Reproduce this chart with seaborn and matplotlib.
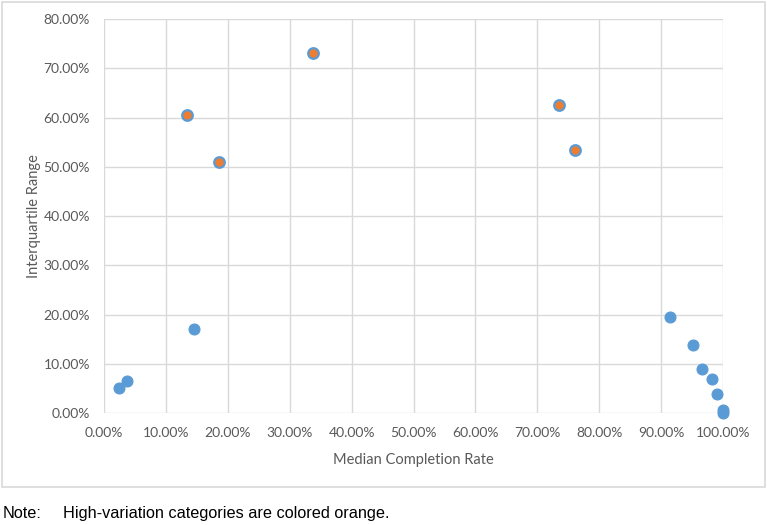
import matplotlib
matplotlib.use("Agg")
import matplotlib.pyplot as plt
import seaborn as sns
import pandas as pd
from matplotlib.ticker import PercentFormatter
from matplotlib.patches import Rectangle

# Data (fractions)
median_rate = [0.025, 0.037, 0.146, 0.914, 0.952, 0.966, 0.982, 0.991, 1.000, 1.000,
               0.134, 0.186, 0.337, 0.735, 0.761]
iqr = [0.0515, 0.066, 0.172, 0.196, 0.138, 0.089, 0.070, 0.040, 0.0075, 0.000,
       0.605, 0.509, 0.732, 0.625, 0.534]
group = ["Normal"] * 10 + ["High variation"] * 5

df = pd.DataFrame({"median": median_rate, "iqr": iqr, "group": group})

sns.set_theme(style="white")
plt.rcParams["font.family"] = ["Lato", "DejaVu Sans"]

fig = plt.figure(figsize=(7.67, 5.25), dpi=100)
ax = fig.add_axes([104/767, 1 - 413.3/525, (723-104)/767, (413.3-19)/525])

blue = "#5B9BD5"
orange = "#ED7D31"
sns.scatterplot(data=df[df.group == "Normal"], x="median", y="iqr", ax=ax,
                color=blue, edgecolor=blue, s=62, linewidth=0.8, clip_on=False, zorder=3)
sns.scatterplot(data=df[df.group == "High variation"], x="median", y="iqr", ax=ax,
                color=orange, edgecolor=blue, s=58, linewidth=1.6, clip_on=False, zorder=3)

ax.set_xlim(0, 1)
ax.set_ylim(0, 0.8)
ax.set_xticks([i/10 for i in range(11)])
ax.set_yticks([i/10 for i in range(9)])
ax.xaxis.set_major_formatter(PercentFormatter(1.0, decimals=2))
ax.yaxis.set_major_formatter(PercentFormatter(1.0, decimals=2))
ax.grid(True, color="#D9D9D9", linewidth=1)
ax.set_axisbelow(True)
for s in ax.spines.values():
    s.set_visible(False)
ax.tick_params(axis="y", length=0, labelsize=10, colors="#595959", pad=10)
ax.tick_params(axis="x", length=0, labelsize=10, colors="#595959", pad=10)
ax.set_xlabel("Median Completion Rate", fontsize=10.5, color="#595959", labelpad=10)
ax.set_ylabel("Interquartile Range", fontsize=10.5, color="#595959", labelpad=2)

fig.patches.append(Rectangle((2/767, 1 - 487/525), 763/767, 485/525,
                             transform=fig.transFigure, fill=False,
                             edgecolor="#D9D9D9", linewidth=1.2))

fig.text(3/767, 1 - 518/525, "Note:", fontsize=11.7, family=["Liberation Sans"],
         color="black", va="baseline")
fig.text(63/767, 1 - 518/525, "High-variation categories are colored orange.",
         fontsize=11.7, family=["Liberation Sans"], color="black", va="baseline")

fig.savefig("out.png", dpi=100)
